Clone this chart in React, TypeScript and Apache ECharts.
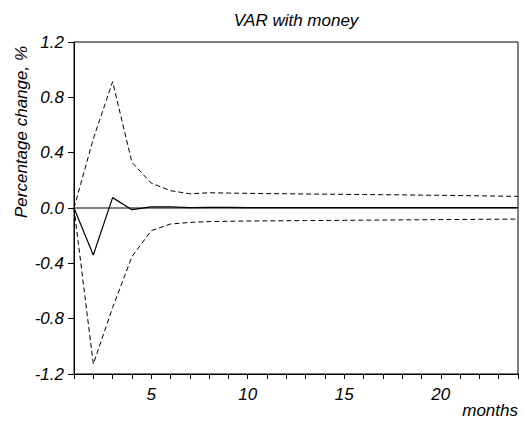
import React, { useEffect, useRef } from "react";
import * as echarts from "echarts";

const months = Array.from({ length: 24 }, (_, i) => i + 1);
const response = [0, -0.34, 0.075, -0.012, 0.008, 0.008, 0.002, 0.004, 0.004, 0.003, 0.003, 0.003, 0.003, 0.003, 0.003, 0.003, 0.003, 0.003, 0.003, 0.003, 0.003, 0.003, 0.003, 0.003];
const upper = [0, 0.5, 0.913, 0.33, 0.18, 0.125, 0.103, 0.11, 0.108, 0.106, 0.104, 0.103, 0.101, 0.1, 0.099, 0.097, 0.096, 0.095, 0.093, 0.092, 0.09, 0.088, 0.086, 0.084];
const lower = [0, -1.128, -0.72, -0.352, -0.164, -0.116, -0.104, -0.098, -0.096, -0.094, -0.093, -0.092, -0.091, -0.09, -0.089, -0.088, -0.087, -0.086, -0.085, -0.084, -0.083, -0.082, -0.081, -0.08];
const xLabels = [5, 10, 15, 20];
const titleText = "VAR with money";
const yName = "Percentage change, %";
const xName = "months";

const FONT = "'Liberation Sans', Arial, sans-serif";
const FS = 17;

export default function App() {
  const ref = useRef<HTMLDivElement>(null);
  useEffect(() => {
    document.body.style.margin = "0";
    const chart = echarts.init(ref.current!, null, { renderer: "svg" });
    const pair = (arr: number[]) => months.map((m, i) => [m, arr[i]]);
    const textStyle = { fontFamily: FONT, fontStyle: "italic", fontSize: FS, fill: "#000" };
    chart.setOption({
      animation: false,
      backgroundColor: "#fff",
      grid: { left: 74, right: 8, top: 42, bottom: 54, show: true, borderColor: "#000", borderWidth: 1 },
      xAxis: {
        type: "value",
        min: 1,
        max: 24,
        interval: 1,
        axisLine: { show: true, onZero: false, lineStyle: { color: "#000", width: 1 } },
        axisTick: { show: true, length: 5, inside: false, lineStyle: { color: "#000" } },
        splitLine: { show: false },
        axisLabel: {
          margin: 12,
          fontFamily: FONT,
          fontStyle: "italic",
          fontSize: FS,
          color: "#000",
          formatter: (v: number) => (xLabels.includes(Math.round(v)) ? String(Math.round(v)) : ""),
        },
      },
      yAxis: {
        type: "value",
        min: -1.2,
        max: 1.2,
        interval: 0.4,
        axisLine: { show: true, onZero: false, lineStyle: { color: "#000", width: 1 } },
        axisTick: { show: true, length: 6, lineStyle: { color: "#000" } },
        splitLine: { show: false },
        axisLabel: {
          margin: 10,
          fontFamily: FONT,
          fontStyle: "italic",
          fontSize: FS,
          color: "#000",
          formatter: (v: number) => (Math.abs(v) < 1e-9 ? "0.0" : v.toFixed(1)),
        },
      },
      series: [
        {
          type: "line",
          data: pair(upper),
          symbol: "none",
          lineStyle: { color: "#000", width: 1, type: [5, 3] },
          z: 3,
        },
        {
          type: "line",
          data: pair(lower),
          symbol: "none",
          lineStyle: { color: "#000", width: 1, type: [5, 3] },
          z: 3,
        },
        {
          type: "line",
          data: pair(response),
          symbol: "none",
          lineStyle: { color: "#000", width: 1.2 },
          z: 4,
          markLine: {
            silent: true,
            symbol: "none",
            label: { show: false },
            lineStyle: { color: "#808080", width: 2, type: "solid" },
            data: [{ yAxis: 0 }],
            z: 2,
          },
        },
      ],
      graphic: [
        { type: "text", x: 296, y: 20, style: { ...textStyle, text: titleText, textAlign: "center", textVerticalAlign: "middle" } },
        { type: "text", x: 21, y: 132, rotation: Math.PI / 2, style: { ...textStyle, text: yName, textAlign: "center", textVerticalAlign: "middle" } },
        { type: "text", x: 518, y: 410, style: { ...textStyle, text: xName, textAlign: "right", textVerticalAlign: "middle" } },
      ],
    });
    return () => chart.dispose();
  }, []);
  return <div ref={ref} style={{ width: 526, height: 428 }} />;
}
